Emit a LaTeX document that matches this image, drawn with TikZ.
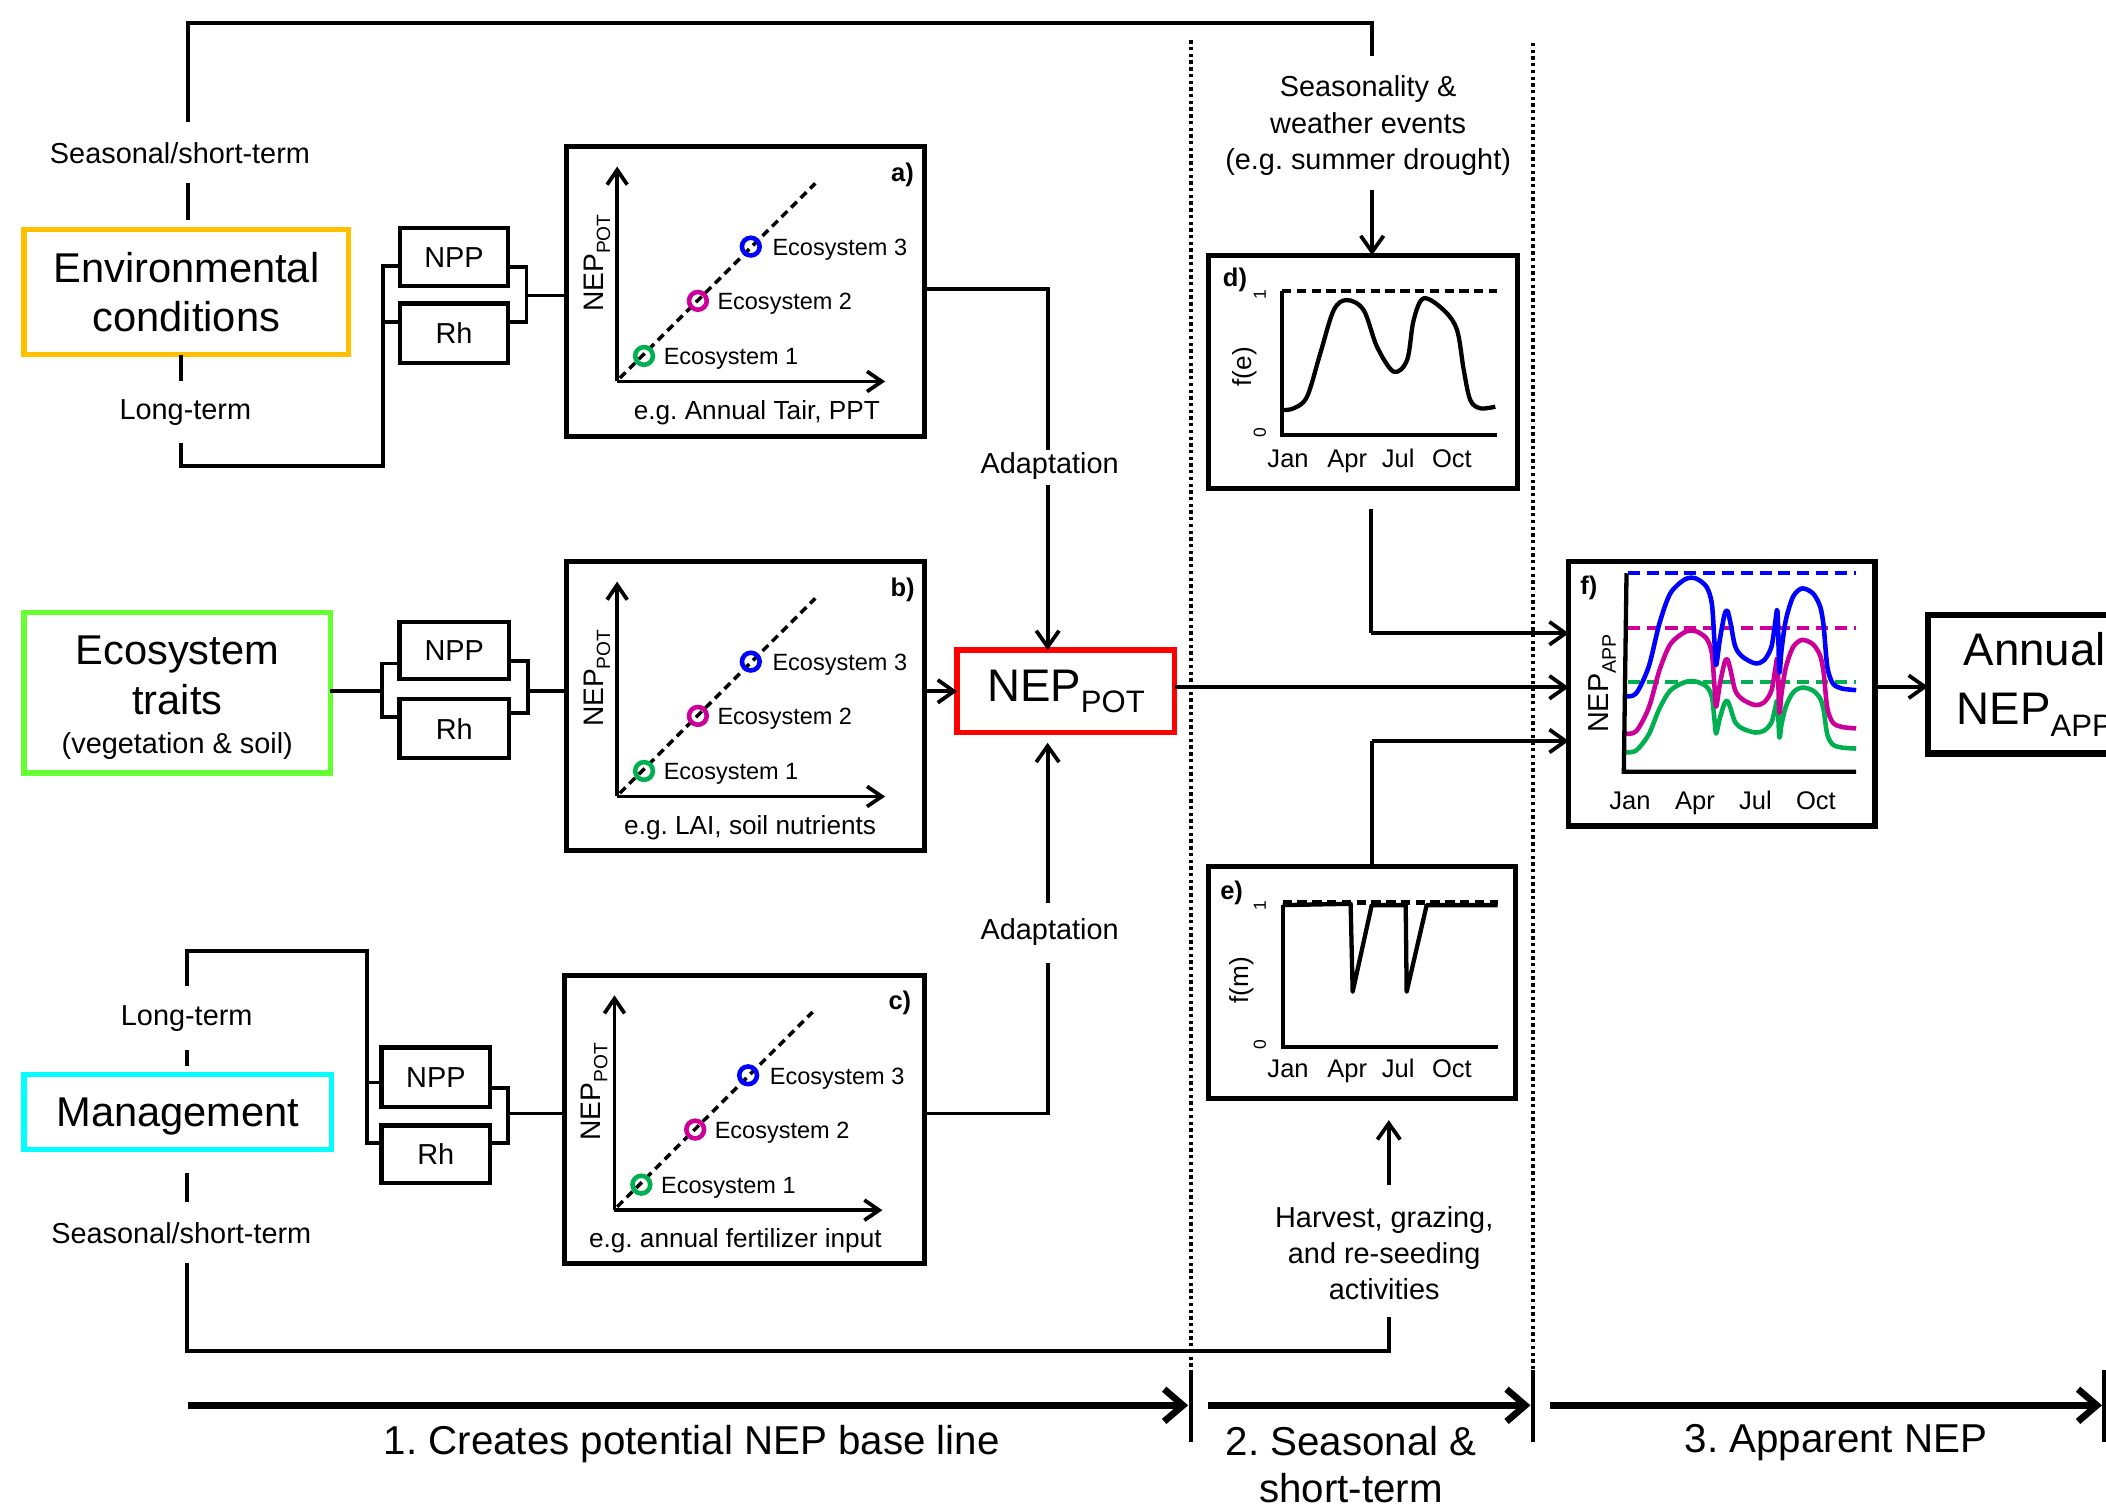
\documentclass[tikz,border=0pt]{standalone}
\usepackage{fontspec}
\setmainfont{Liberation Sans}
\usepackage{graphicx}
\usetikzlibrary{arrows.meta}
\definecolor{cOrange}{HTML}{FFC000}
\definecolor{cGreenBox}{HTML}{66FF33}
\definecolor{cCyan}{HTML}{00FFFF}
\definecolor{cRed}{HTML}{FF0000}
\definecolor{cG}{HTML}{00B050}
\definecolor{cM}{HTML}{CC0099}
\definecolor{cB}{HTML}{0000FF}
\newcommand\subs[1]{\raisebox{-0.25em}{\scalebox{0.68}{#1}}}
\frenchspacing
\tikzset{
 conn/.style={line width=2.8pt},
 arr/.style={line width=2.8pt, -{Straight Barb[length=12pt,width=17pt]}},
 lbl/.style={font=\fontsize{21.5}{27}\selectfont, align=center, inner sep=0pt},
 bigbox/.style={draw, line width=4pt, font=\fontsize{31}{37}\selectfont, align=center, inner sep=0pt, outer sep=0pt},
 bigtxt/.style={font=\fontsize{31}{37}\selectfont, inner sep=0pt, anchor=base},
 smallbox/.style={draw, line width=3.2pt, font=\fontsize{21.5}{26}\selectfont, inner sep=0pt, outer sep=0pt},
 panel/.style={draw, line width=3.8pt, inner sep=0pt, outer sep=0pt},
 axisarr/.style={line width=2.8pt, -{Straight Barb[length=11pt,width=15pt]}},
 diag/.style={line width=2.6pt, dash pattern=on 6pt off 4pt},
 ring/.style={draw=#1, line width=3.4pt},
 ecol/.style={font=\fontsize{17.5}{20}\selectfont, anchor=base west, inner sep=0pt},
 axlab/.style={font=\fontsize{19.5}{23}\selectfont, inner sep=0pt},
 axbase/.style={font=\fontsize{19.5}{23}\selectfont, inner sep=0pt, anchor=base},
 panlet/.style={font=\fontsize{19}{22}\selectfont\bfseries, inner sep=0pt},
 monthlbl/.style={font=\fontsize{19}{22}\selectfont, inner sep=0pt, anchor=base},
 digitlbl/.style={font=\fontsize{13}{15}\selectfont, inner sep=0pt, rotate=90},
 plotax/.style={line width=3.2pt},
 dline/.style={line width=3.2pt, dash pattern=on 7pt off 4pt},
 curveline/.style={line width=3.2pt, line join=round},
 dotsep/.style={line width=2.8pt, dash pattern=on 2.5pt off 2.5pt},
 septick/.style={line width=2.6pt},
 bigarr/.style={line width=5pt, -{Straight Barb[length=14pt,width=24pt]}},
 steplbl/.style={font=\fontsize{30}{35}\selectfont, align=center, inner sep=0pt},
}
% name, left x, top y, width, height, bottom label, letter, label centre x offset
\newcommand\drawpanel[8]{%
  \node[panel, minimum width=#4pt, minimum height=#5pt, anchor=north west] (#1) at (#2,#3) {};
  \begin{scope}[shift={(#2,#3)}]
    \draw[axisarr] (37.5,175) -- (37.5,15);
    \draw[axisarr] (37.5,175) -- (237,175);
    \draw[diag] (39.5,172.5) -- (185,27.5);
    \draw[ring=cG] (57.5,156) circle[radius=6.6];
    \draw[ring=cM] (97.6,115) circle[radius=6.6];
    \draw[ring=cB] (137,74.6) circle[radius=6.6];
    \node[ecol] (#1e1) at (72,162.3) {Ecosystem 1};
    \node[ecol] (#1e2) at (112,121.3) {Ecosystem 2};
    \node[ecol] (#1e3) at (153,81.3) {Ecosystem 3};
    \node[axbase] (#1x) at (#8,203) {#6};
    \node[panlet] (#1l) at (250,21) {#7};
    \node[axlab, rotate=90, font=\fontsize{21}{24}\selectfont] (#1y) at (22.5,87) {NEP\subs{POT}};
  \end{scope}}
\begin{document}
\begin{tikzpicture}[x=1pt,y=-1pt]
\useasboundingbox (0,0) rectangle (1568,1120);
\clip (0,0) rectangle (1568,1120);
\fill[white] (0,0) rectangle (1568,1120);

% ---------- driver boxes ----------
\node[bigbox, draw=cOrange, minimum width=241.5pt, minimum height=93pt] (env) at (138.75,217.5) {Environmental\\conditions};
\node[bigbox, draw=cGreenBox, minimum width=228pt, minimum height=119.5pt] (eco) at (132,515.75) {};
\node[bigtxt] (ecoT1) at (132,495) {Ecosystem};
\node[bigtxt] (ecoT2) at (132,532) {traits};
\node[bigtxt, font=\fontsize{21.5}{26}\selectfont] (ecoT3) at (132,561) {(vegetation \& soil)};
\node[bigbox, draw=cCyan, minimum width=229pt, minimum height=56pt, text depth=0pt] (mgmt) at (132.5,828) {Management};

% NPP / Rh boxes
\node[smallbox, minimum width=80pt, minimum height=43pt] (nppE) at (338,191.5) {NPP};
\node[smallbox, minimum width=80pt, minimum height=44pt] (rhE) at (338,248) {Rh};
\node[smallbox, minimum width=81.5pt, minimum height=42.6pt] (nppB) at (338.25,484.3) {NPP};
\node[smallbox, minimum width=81.5pt, minimum height=44pt] (rhB) at (338.25,542.6) {Rh};
\node[smallbox, minimum width=81pt, minimum height=44pt] (nppM) at (324.5,802) {NPP};
\node[smallbox, minimum width=81pt, minimum height=43pt] (rhM) at (324.5,859.5) {Rh};

% ---------- panels a, b, c ----------
\drawpanel{pa}{422}{109}{266}{216}{e.g. Annual Tair, PPT}{a)}{141.5}
\drawpanel{pb}{422}{418}{266}{215}{e.g. LAI, soil nutrients}{b)}{136.5}
\drawpanel{pc}{420}{726}{268}{215}{e.g. annual fertilizer input}{c)}{127.5}

% ---------- NEP_POT ----------
\node[draw=cRed, line width=4pt, minimum width=162pt, minimum height=61.4pt, inner sep=0pt, outer sep=0pt,
  font=\fontsize{34}{40}\selectfont] (red) at (793.6,514.7) {\raisebox{-2pt}{NEP\subs{POT}}};

% ---------- labels ----------
\node[lbl] (seasE) at (134,114) {Seasonal/short-term};
\node[lbl] (longE) at (138,307) {Long-term};
\node[lbl] (longM) at (139,758) {Long-term};
\node[lbl] (seasM) at (135,918) {Seasonal/short-term};
\node[lbl] (adA) at (781.5,347) {Adaptation};
\node[lbl] (adC) at (781.5,694) {Adaptation};
\node[lbl] (weather) at (1018.6,93.5) {Seasonality \&\\weather events\\(e.g. summer drought)};
\node[lbl] (harvest) at (1030.6,933) {Harvest, grazing,\\and re-seeding\\activities};

% ---------- connectors: environmental ----------
\draw[conn] (140,91) -- (140,17) -- (1021.6,17) -- (1021.6,42);
\draw[conn] (140,136) -- (140,164);
\draw[conn] (135,264) -- (135,284);
\draw[conn] (135,330) -- (135,347) -- (285,347) -- (285,198) -- (nppE.west |- 0,198);
\draw[conn] (285,240) -- (rhE.west |- 0,240);
\draw[conn] (nppE.east |- 0,199) -- (392,199) -- (392,240) -- (rhE.east |- 0,240);
\draw[conn] (392,220) -- (pa.west |- 0,220);

% ecosystem
\draw[conn] (eco.east |- 0,514.6) -- (284.6,514.6);
\draw[conn] (nppB.west |- 0,494) -| (284.6,534) -- (rhB.west |- 0,534);
\draw[conn] (nppB.east |- 0,492) -| (393,531) -- (rhB.east |- 0,531);
\draw[conn] (393,514.6) -- (pb.west |- 0,514.6);
\draw[arr] (pb.east |- red.west) -- (red.west);

% management
\draw[conn] (139,734) -- (139,708) -- (273,708) -- (273,851) -- (rhM.west |- 0,851);
\draw[conn] (273,806) -- (nppM.west |- 0,806);
\draw[conn] (nppM.east |- 0,810) -| (378,851) -- (rhM.east |- 0,851);
\draw[conn] (378,829) -- (pc.west |- 0,829);
\draw[conn] (139,782) -- (139,794);
\draw[conn] (139,873) -- (139,895);
\draw[conn] (139,940) -- (139,1006) -- (1034,1006) -- (1034,980.5);

% adaptation
\draw[conn] (pa.east |- 0,215) -- (780,215) -- (780,335);
\draw[arr] (780,361) -- (red.north -| 780,0);
\draw[arr] (780,672) -- (780,553);
\draw[conn] (780,717) -- (780,829) -- (pc.east |- 0,829);

% ---------- separators ----------
\draw[dotsep] (886.8,30) -- (886.8,1020);
\draw[dotsep] (1141.5,32) -- (1141.5,1020);
\draw[septick] (886.8,1020) -- (886.8,1073.6);
\draw[septick] (1141.5,1020) -- (1141.5,1073.6);
\draw[line width=3pt] (1566.5,1020) -- (1566.5,1073.6);

% ---------- panel d ----------
\node[panel, minimum width=229.6pt, minimum height=173.6pt] (pd) at (1014.8,276.8) {};
\begin{scope}[shift={(954.5,323.9)}, y=1pt]
  \draw[plotax] (0,107) -- (0,0) -- (160,0);
  \draw[dline] (0,107) -- (160,107);
  \draw[curveline] plot[smooth, tension=0.55] coordinates {(0,18.6) (8.7,19.9) (18.6,28.5) (28.5,60.8) (38.5,93) (48.4,100.5) (60.8,93) (70.7,65.8) (83.1,47.2) (93.1,55.8) (98,85.6) (105.5,101.8) (120.4,93) (130.3,78.2) (135.3,48.4) (140.2,26) (147.7,19.9) (158.8,21.1)};
\end{scope}
\node[panlet] (dl) at (919.5,208.5) {d)};
\node[digitlbl] (d1) at (938,219) {1};
\node[digitlbl] (d0) at (938,322) {0};
\node[axlab, rotate=90] (dy) at (927,273) {f(e)};
\node[monthlbl] (dm1) at (959,348) {Jan};
\node[monthlbl] (dm2) at (1003,348) {Apr};
\node[monthlbl] (dm3) at (1041,348) {Jul};
\node[monthlbl] (dm4) at (1081,348) {Oct};

% ---------- panel e ----------
\node[panel, minimum width=228pt, minimum height=172.2pt] (pe) at (1014,731.5) {};
\begin{scope}[shift={(955,779.4)}, y=1pt]
  \draw[plotax] (0,105.5) -- (0,0) -- (160,0);
  \draw[curveline] (0,105.5) -- (50.6,106.5) -- (52.1,41) -- (66.3,105.5) -- (91.6,105.5) -- (92.3,41) -- (107.2,105.5) -- (160,105.5);
  \draw[dline] (0,107.4) -- (160,107.4);
\end{scope}
\node[panlet] (el) at (917,665) {e)};
\node[digitlbl] (e1) at (938,674) {1};
\node[digitlbl] (e0) at (938,778) {0};
\node[axlab, rotate=90] (ey) at (924.6,729.8) {f(m)};
\node[monthlbl] (em1) at (959,802.4) {Jan};
\node[monthlbl] (em2) at (1003,802.4) {Apr};
\node[monthlbl] (em3) at (1041,802.4) {Jul};
\node[monthlbl] (em4) at (1081,802.4) {Oct};

% ---------- panel f ----------
\node[panel, minimum width=228pt, minimum height=197pt] (pf) at (1282,516.5) {};
\begin{scope}[shift={(1210,574.6)}, y=1pt]
  \draw[dline, cB, dash pattern=on 9pt off 5pt] (2,147.8) -- (172,147.8);
  \draw[dline, cM, dash pattern=on 9pt off 5pt] (2,107.2) -- (172,107.2);
  \draw[dline, cG, dash pattern=on 9pt off 5pt] (2,67) -- (172,67);
  \draw[curveline, cG, line width=3.4pt, shift={(0,15)}, yscale=0.6, shift={(0,-57)}] plot[smooth, tension=0.5] coordinates {(0,56.3) (8.1,58.3) (17.5,78.2) (25.5,110.4) (33.6,132.8) (44.4,143.2) (52.4,144) (60.5,137.8) (64.5,125.3) (66.4,98) (67.7,79.4) (70.4,98) (73.9,116.7) (76.1,119.9) (78.5,110.4) (82,93.1) (87.4,85.6) (96.8,80.7) (103.5,83.1) (108.9,93.1) (111.6,110.4) (113.4,119.1) (114.8,74.5) (116.4,90.6) (119.6,112.9) (125,130.3) (131.7,136.5) (139.8,132.8) (145.2,122.9) (147.8,108) (150.5,78.2) (154.6,65.8) (161.3,62) (172,60.8)};
  \draw[curveline, cM, line width=3.4pt, shift={(0,29)}, yscale=0.87, shift={(0,-57)}] plot[smooth, tension=0.5] coordinates {(0,56.3) (8.1,58.3) (17.5,78.2) (25.5,110.4) (33.6,132.8) (44.4,143.2) (52.4,144) (60.5,137.8) (64.5,125.3) (66.4,98) (67.7,79.4) (70.4,98) (73.9,116.7) (76.1,119.9) (78.5,110.4) (82,93.1) (87.4,85.6) (96.8,80.7) (103.5,83.1) (108.9,93.1) (111.6,110.4) (113.4,119.1) (114.8,74.5) (116.4,90.6) (119.6,112.9) (125,130.3) (131.7,136.5) (139.8,132.8) (145.2,122.9) (147.8,108) (150.5,78.2) (154.6,65.8) (161.3,62) (172,60.8)};
  \draw[curveline, cB, line width=3.4pt] plot[smooth, tension=0.5] coordinates {(0,56.3) (8.1,58.3) (17.5,78.2) (25.5,110.4) (33.6,132.8) (44.4,143.2) (52.4,144) (60.5,137.8) (64.5,125.3) (66.4,98) (67.7,79.4) (70.4,98) (73.9,116.7) (76.1,119.9) (78.5,110.4) (82,93.1) (87.4,85.6) (96.8,80.7) (103.5,83.1) (108.9,93.1) (111.6,110.4) (113.4,119.1) (114.8,74.5) (116.4,90.6) (119.6,112.9) (125,130.3) (131.7,136.5) (139.8,132.8) (145.2,122.9) (147.8,108) (150.5,78.2) (154.6,65.8) (161.3,62) (172,60.8)};
  \draw[plotax] (1,147.8) -- (-1,0) -- (172,0);
\end{scope}
\node[panlet] (fl) at (1183,438) {f)};
\node[axlab, rotate=90, font=\fontsize{21.5}{24}\selectfont] (fy) at (1193,509) {NEP\subs{APP}};
\node[monthlbl] (fm1) at (1213.6,602.7) {Jan};
\node[monthlbl] (fm2) at (1262,602.7) {Apr};
\node[monthlbl] (fm3) at (1307,602.7) {Jul};
\node[monthlbl] (fm4) at (1352,602.7) {Oct};

% ---------- Annual NEP_APP ----------
\node[draw, line width=4.5pt, minimum width=159pt, minimum height=103pt, inner sep=0pt, outer sep=0pt, align=center,
  font=\fontsize{34}{44}\selectfont] (annual) at (1515,509.5) {Annual\\NEP\subs{APP}};

% ---------- connectors: seasonal part ----------
\draw[arr] (1021.6,141.5) -- (pd.north -| 1021.6,0);
\draw[conn] (1021,378.7) -- (1021,471.5);
\draw[arr] (1021,471.5) -- (pf.west |- 0,471.5);
\draw[arr] (red.east |- 0,511.7) -- (pf.west |- 0,511.7);
\draw[conn] (pe.north -| 1021.5,0) -- (1021.5,551.7);
\draw[arr] (1021.5,551.7) -- (pf.west |- 0,551.7);
\draw[arr] (1034,882.4) -- (1034,834);
\draw[arr] (pf.east |- 0,511.3) -- (annual.west |- 0,511.3);

% ---------- bottom axis ----------
\coordinate (b1s) at (140,1046.3);
\coordinate (b1e) at (884.6,1046.3);
\coordinate (b2s) at (899.6,1046.3);
\coordinate (b2e) at (1139.5,1046.3);
\coordinate (b3s) at (1154,1046.3);
\coordinate (b3e) at (1565,1046.3);
\draw[bigarr] (b1s) -- (b1e);
\draw[bigarr] (b2s) -- (b2e);
\draw[bigarr] (b3s) -- (b3e);
\node[steplbl] (s1) at (515,1075) {1. Creates potential NEP base line};
\node[steplbl, anchor=north] (s2) at (1006,1062) {2. Seasonal \&\\short-term};
\node[steplbl] (s3) at (1367,1074) {3. Apparent NEP};
\end{tikzpicture}
\end{document}
